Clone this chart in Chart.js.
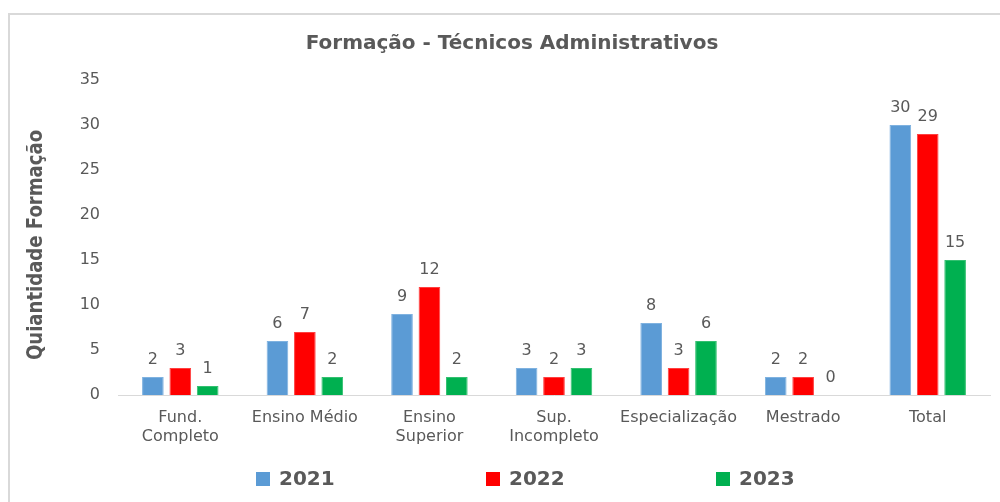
<!DOCTYPE html>
<html>
<head>
<meta charset="utf-8">
<script src="https://cdn.jsdelivr.net/npm/chart.js@4.4.1/dist/chart.umd.min.js"></script>
<style>
html,body{margin:0;padding:0;background:#fff;}
#wrap{position:relative;width:1000px;height:502px;}
</style>
</head>
<body>
<div id="wrap"><canvas id="c" width="1000" height="502"></canvas></div>
<script>
const categories = [["Fund.", "Completo"], "Ensino Médio", ["Ensino", "Superior"], ["Sup.", "Incompleto"], "Especialização", "Mestrado", "Total"];
const values2021 = [2, 6, 9, 3, 8, 2, 30];
const values2022 = [3, 7, 12, 2, 3, 2, 29];
const values2023 = [1, 2, 2, 3, 6, 0, 15];
const seriesNames = ["2021", "2022", "2023"];
const yTicks = [0, 5, 10, 15, 20, 25, 30, 35];
const chartTitle = "Formação - Técnicos Administrativos";
const yTitle = "Quiantidade Formação";

const colors = ["#5B9BD5", "#FF0000", "#00B050"];
const borders = ["#7FB2E0", "#FF4040", "#33C070"];
const TXT = "#595959";
const FONT = "'DejaVu Sans', 'Open Sans', sans-serif";

const frame = {
  id: 'frame',
  beforeDraw(chart) {
    const ctx = chart.ctx;
    ctx.save();
    ctx.fillStyle = '#fff';
    ctx.fillRect(0, 0, chart.width, chart.height);
    ctx.strokeStyle = '#D9D9D9';
    ctx.lineWidth = 2;
    ctx.beginPath();
    ctx.moveTo(9, chart.height);
    ctx.lineTo(9, 14);
    ctx.lineTo(chart.width, 14);
    ctx.stroke();
    ctx.restore();
  }
};

const titlePlugin = {
  id: 'titlePlugin',
  afterDraw(chart) {
    const ctx = chart.ctx;
    ctx.save();
    ctx.font = "bold 20px " + FONT;
    ctx.fillStyle = TXT;
    ctx.textAlign = 'center';
    ctx.textBaseline = 'middle';
    ctx.fillText(chartTitle, 512, 44);
    ctx.restore();
    ctx.save();
    ctx.translate(37, 245);
    ctx.rotate(-Math.PI / 2);
    ctx.scale(0.86, 1);
    ctx.font = "bold 21px " + FONT;
    ctx.fillStyle = TXT;
    ctx.textAlign = 'center';
    ctx.textBaseline = 'middle';
    ctx.fillText(yTitle, 0, 0);
    ctx.restore();
  }
};

const dataLabels = {
  id: 'dataLabels',
  afterDatasetsDraw(chart) {
    const ctx = chart.ctx;
    ctx.save();
    ctx.font = "16px " + FONT;
    ctx.fillStyle = TXT;
    ctx.textAlign = 'center';
    ctx.textBaseline = 'middle';
    chart.data.datasets.forEach((ds, i) => {
      const meta = chart.getDatasetMeta(i);
      meta.data.forEach((bar, j) => {
        ctx.fillText(String(ds.data[j]), bar.x, bar.y - 17);
      });
    });
    ctx.restore();
  }
};

const customLegend = {
  id: 'customLegend',
  afterDraw(chart) {
    const ctx = chart.ctx;
    ctx.save();
    ctx.font = "bold 20px " + FONT;
    ctx.textBaseline = 'middle';
    ctx.textAlign = 'left';
    const cy = 479;
    const start = chart.width / 2 - 244;
    chart.data.datasets.forEach((ds, i) => {
      const x = start + i * 230;
      ctx.fillStyle = ds.backgroundColor;
      ctx.fillRect(x, cy - 7, 14, 14);
      ctx.fillStyle = TXT;
      ctx.fillText(ds.label, x + 23, cy + 1);
    });
    ctx.restore();
  }
};

const seriesValues = [values2021, values2022, values2023];

new Chart(document.getElementById('c'), {
  type: 'bar',
  data: {
    labels: categories,
    datasets: seriesNames.map((n, i) => ({
      label: n,
      data: seriesValues[i],
      backgroundColor: colors[i],
      borderColor: borders[i],
      borderWidth: 1,
      barPercentage: 0.79,
      categoryPercentage: 0.66
    }))
  },
  options: {
    responsive: false,
    animation: false,
    devicePixelRatio: 1,
    layout: { padding: { top: 80, left: 0, right: 10, bottom: 55 } },
    plugins: {
      legend: { display: false },
      tooltip: { enabled: false },
      title: { display: false }
    },
    scales: {
      x: {
        grid: { display: false, drawTicks: false },
        border: { display: true, color: '#D9D9D9', width: 1 },
        ticks: { color: TXT, font: { family: FONT, size: 16, lineHeight: 1.2 }, padding: 13, maxRotation: 0, autoSkip: false },
        afterFit(scale) { scale.height = 52; }
      },
      y: {
        min: 0, max: 35,
        afterBuildTicks(scale) { scale.ticks = yTicks.map(v => ({ value: v })); },
        grid: { display: false, drawTicks: false },
        border: { display: false },
        ticks: { color: TXT, font: { family: FONT, size: 16 }, padding: 18 },
        title: { display: false },
        afterFit(scale) { scale.width = 118; }
      }
    }
  },
  plugins: [frame, titlePlugin, dataLabels, customLegend]
});
</script>
</body>
</html>
